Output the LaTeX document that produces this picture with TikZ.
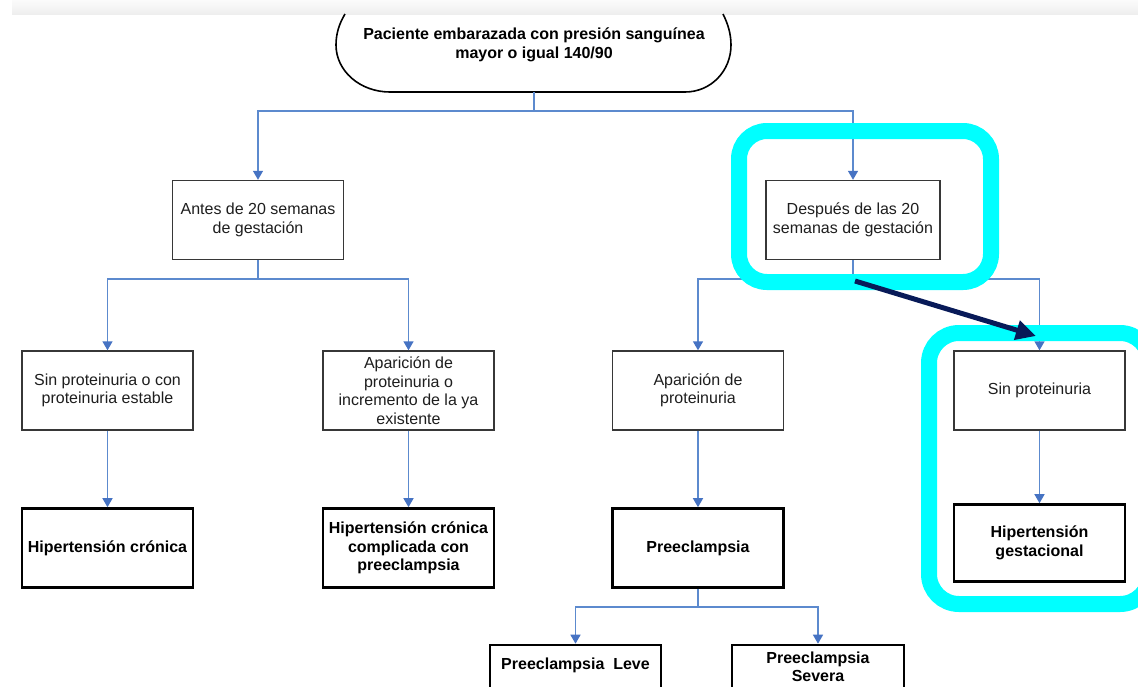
\documentclass[tikz,border=0pt]{standalone}
\usepackage{fontspec}
\setmainfont{Liberation Sans}
\usetikzlibrary{arrows.meta}
\definecolor{connblue}{RGB}{92,138,206}
\definecolor{tipblue}{RGB}{70,115,195}
\definecolor{hlcyan}{RGB}{0,255,255}
\definecolor{navyarrow}{RGB}{8,26,88}
\definecolor{boxline}{RGB}{55,55,55}
\definecolor{txt}{RGB}{30,30,30}
\tikzset{
  conn/.style={draw=connblue, line width=1.4pt, -{Triangle[width=10pt,length=9pt,color=tipblue,fill=tipblue]}},
  connplain/.style={draw=connblue, line width=1.4pt},
  plainbox/.style={draw=boxline, line width=1.4pt, fill=white, rectangle, minimum width=171pt, minimum height=79pt, inner sep=0pt, align=center, text=txt, font=\fontsize{16}{18.5}\selectfont},
  boldbox/.style={draw=black, line width=2.6pt, fill=white, rectangle, minimum width=171pt, minimum height=79pt, inner sep=0pt, align=center, text=black, font=\fontsize{16}{18.5}\selectfont\bfseries},
  hl/.style={draw=hlcyan, line width=16pt},
}
\begin{document}
\begin{tikzpicture}[x=1pt,y=-1pt]
\useasboundingbox (0,0) rectangle (1138,686);
\clip (0,0) rectangle (1138,686);
\fill[white] (0,0) rectangle (1138,686);
% top grey band
\shade[top color=gray!3, bottom color=gray!13] (12,0) rectangle (1138,14);

% top terminator shape
\draw[black, line width=1.6pt] (345,14) .. controls (339,24) and (336,34) .. (336,45)
  .. controls (336,71) and (360,92) .. (390,92) -- (685,92)
  .. controls (711,92) and (731,71) .. (731,45)
  .. controls (731,34) and (728,24) .. (723,14);
\node[draw=none, minimum width=393pt, minimum height=78pt, inner sep=0pt] (top) at (534,53) {};
\node[font=\fontsize{16}{19}\selectfont\bfseries, align=center, inner sep=0pt] (toptext) at (534,44.5) {Paciente embarazada con presión sanguínea\\mayor o igual 140/90};

% boxes
\node[plainbox] (A) at (258,220) {Antes de 20 semanas\\de gestación};
\node[plainbox, minimum width=174pt] (B) at (853,220) {Después de las 20\\semanas de gestación};
\node[plainbox] (C) at (107.5,390.5) {Sin proteinuria o con\\proteinuria estable};
\node[plainbox] (D) at (408.5,390.5) {Aparición de\\proteinuria o\\incremento de la ya\\existente};
\node[plainbox] (E) at (698,390.5) {Aparición de\\proteinuria};
\node[plainbox] (F) at (1039.5,390.5) {Sin proteinuria};
\node[boldbox] (G) at (107.5,548) {Hipertensión crónica};
\node[boldbox] (H) at (408.5,548) {Hipertensión crónica\\complicada con\\preeclampsia};
\node[boldbox] (I) at (698,548) {Preeclampsia};
\node[boldbox, minimum height=77pt] (J) at (1039.5,543) {Hipertensión\\gestacional};
\node[boldbox, minimum height=80pt] (K) at (575.5,685) {};
\node[font=\fontsize{16}{18.5}\selectfont\bfseries, inner sep=0pt] (Ktext) at (575.5,665) {Preeclampsia\ \ Leve};
\node[boldbox, minimum width=172pt, minimum height=80pt] (L) at (818,685) {};
\node[font=\fontsize{16}{18.5}\selectfont\bfseries, align=center, inner sep=0pt] (Ltext) at (818,667) {Preeclampsia\\Severa};

% junctions
\coordinate (j1) at (534,111);
\coordinate (j2) at (258,279);
\coordinate (j3) at (853,279);
\coordinate (j4) at (698,607);

% connectors
\draw[connplain] (top.south) -- (j1);
\draw[conn] (j1) -| (A.north);
\draw[conn] (j1) -| (B.north);
\draw[connplain] (A.south) -- (j2);
\draw[conn] (j2) -| (C.north);
\draw[conn] (j2) -| (D.north);
\draw[connplain] (B.south) -- (j3);
\draw[conn] (j3) -| (E.north);
\draw[conn] (j3) -| (F.north);
\draw[conn] (C.south) -- (G.north);
\draw[conn] (D.south) -- (H.north);
\draw[conn] (E.south) -- (I.north);
\draw[conn] (F.south) -- (J.north);
\draw[connplain] (I.south) -- (j4);
\draw[conn] (j4) -| (K.north);
\draw[conn] (j4) -| (L.north);

% cyan highlights
\draw[hl, rounded corners=28pt] (739,131) rectangle (991,282);
\draw[hl, rounded corners=30pt] (929,333) rectangle (1150,604);

% navy arrow
\coordinate (n1) at (855,281);
\coordinate (n2) at (1036,336);
\draw[navyarrow, line width=5pt, -{Triangle[width=19pt,length=20pt]}] (n1) -- (n2);
\end{tikzpicture}
\end{document}
